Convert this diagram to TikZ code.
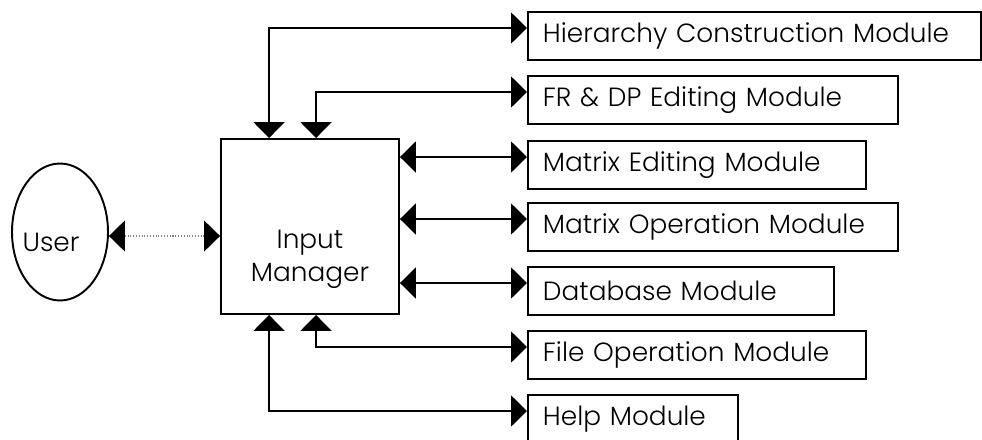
\documentclass[tikz,border=0pt]{standalone}
\usepackage{fontspec}
\setmainfont{Poppins}[UprightFont=* Light]
\usetikzlibrary{arrows.meta,shapes.geometric}

\tikzset{
  modbox/.style={draw, line width=1.1pt, anchor=west, minimum height=0.96cm,
    inner xsep=0.3cm, align=left, text width=#1},
  link/.style={line width=1.1pt,
    {Triangle[length=0.32cm,width=0.62cm]}-{Triangle[length=0.32cm,width=0.62cm]}},
  dotlink/.style={densely dotted, gray, line width=0.6pt,
    {Triangle[length=0.32cm,width=0.62cm,black]}-{Triangle[length=0.32cm,width=0.62cm,black]}}
}

\begin{document}
\begin{tikzpicture}[x=0.02cm, y=-0.02cm, font=\fontsize{15}{19}\selectfont]
      \useasboundingbox (0,0) rectangle (982,439);

      % user and the input manager
      \node[draw, ellipse, line width=1.1pt, minimum width=1.92cm, minimum height=2.74cm,
        label={[xshift=-0.18cm, yshift=-0.2cm]center:User}] (user) at (60,232) {};
      \node[draw, line width=1.1pt, minimum width=3.56cm, minimum height=3.5cm,
        label={[align=center, yshift=-0.66cm]center:Input\\Manager}] (mgr) at (310,226.5) {};

      % modules
      \node[modbox=8.46cm] (hier) at (527,36)  {Hierarchy Construction Module};
      \node[modbox=6.8cm]  (frdp) at (527,100) {FR \& DP Editing Module};
      \node[modbox=6.16cm] (medit) at (527,165) {Matrix Editing Module};
      \node[modbox=6.8cm]  (mop) at (527,227) {Matrix Operation Module};
      \node[modbox=5.52cm] (db) at (527,291) {Database Module};
      \node[modbox=6.16cm] (fop) at (527,355) {File Operation Module};
      \node[modbox=3.6cm]  (help) at (527,419) {Help Module};

      % connections
      \draw[dotlink] ([yshift=-0.08cm]user.east) -- ([yshift=-0.08cm]user.east -| mgr.west);
      \draw[link] ([xshift=0.98cm]mgr.north west) |- ([yshift=0.16cm]hier.west);
      \draw[link] ([xshift=1.92cm]mgr.north west) |- ([yshift=0.16cm]frdp.west);
      \draw[link] ([yshift=0.16cm]medit.west -| mgr.east) -- ([yshift=0.16cm]medit.west);
      \draw[link] ([yshift=0.16cm]mop.west -| mgr.east) -- ([yshift=0.16cm]mop.west);
      \draw[link] ([yshift=0.16cm]db.west -| mgr.east) -- ([yshift=0.16cm]db.west);
      \draw[link] ([xshift=1.92cm]mgr.south west) |- ([yshift=0.16cm]fop.west);
      \draw[link] ([xshift=0.98cm]mgr.south west) |- ([yshift=0.16cm]help.west);
\end{tikzpicture}
\end{document}
